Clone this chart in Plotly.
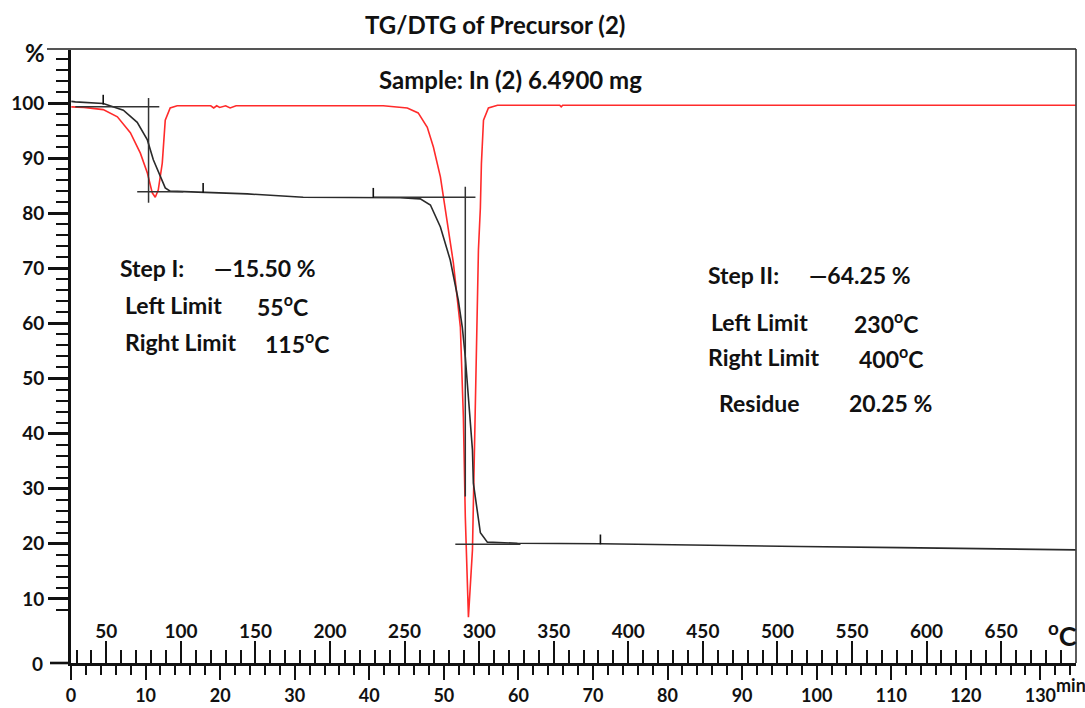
import plotly.graph_objects as go

# ---------------- data ----------------
# TG curve: temperature (°C) vs mass (%)
tg_temp = [26.5, 29.2, 47.9, 61.4, 70.7, 77.5, 81.5, 86.1, 89.5, 92.8, 101.6, 121.7, 144.5,
           182.0, 229.0, 247.0, 260.5, 267.3, 274.0, 280.6, 286.0, 288.7, 290.7, 292.1, 294.1,
           295.5, 296.1, 298.2, 300.8, 305.5, 325.7, 381.3, 448.0, 515.0, 582.0, 700.0]
tg_mass = [100.3, 100.2, 99.9, 98.7, 96.5, 93.3, 89.7, 86.6, 84.6, 84.0, 83.9, 83.7, 83.5,
           82.9, 82.9, 82.8, 82.6, 81.5, 77.5, 71.5, 64.2, 59.3, 53.9, 49.2, 43.0,
           37.0, 31.0, 26.5, 22.0, 20.3, 20.1, 20.0, 19.7, 19.5, 19.3, 18.9]

# DTG curve (drawn on the same % scale)
dtg_temp = [26.5, 35.0, 47.9, 57.4, 66.1, 72.8, 77.5, 80.8, 82.8, 84.8, 87.5, 89.5, 92.8, 97.5,
            120.0, 122.0, 124.0, 126.0, 130.0, 133.0, 137.0, 141.0, 200.0, 235.7, 251.8,
            259.1, 265.2, 269.3, 274.0, 276.0, 282.7, 287.4, 289.4, 290.7, 292.8, 295.5,
            297.5, 299.5, 300.8, 301.5, 302.9, 306.2, 312.3, 354.0, 355.0, 356.0, 500.0, 700.0]
dtg_val = [99.3, 99.2, 98.8, 97.5, 94.6, 90.9, 87.3, 83.7, 82.9, 84.2, 89.1, 96.9, 99.1, 99.5,
           99.5, 99.1, 99.5, 99.2, 99.5, 99.1, 99.5, 99.5, 99.5, 99.5, 99.1,
           98.2, 95.6, 92.0, 86.6, 83.0, 71.0, 59.3, 43.0, 24.9, 6.7, 18.9,
           49.2, 73.3, 81.0, 89.0, 96.9, 99.1, 99.6, 99.6, 99.3, 99.6, 99.6, 99.6]

# Step construction lines (horizontal / vertical tangents)
step1_temp = [29.2, 85.5, None, 78.3, 78.3, None, 70.7, 101.6]
step1_val = [99.3, 99.3, None, 100.9, 81.9, None, 83.9, 83.9]
step2_temp = [229.0, 297.5, None, 290.7, 290.7, None, 284.0, 327.7]
step2_val = [82.9, 82.9, None, 84.8, 28.6, None, 19.9, 19.9]

# small marks on the TG curve
mark_temp = [47.9, 114.9, 229.0, 381.3]
mark_val = [100.6, 84.6, 83.7, 20.8]

# axis ticks
temp_ticks = [50, 100, 150, 200, 250, 300, 350, 400, 450, 500, 550, 600, 650]
time_ticks = [0, 10, 20, 30, 40, 50, 60, 70, 80, 90, 100, 110, 120, 130]
pct_ticks = [10, 20, 30, 40, 50, 60, 70, 80, 90, 100]

T_START = 26.3      # °C at the y axis
T_END = 700.2       # °C at the right border
RATE = 5.0          # °C per minute
Y_MIN, Y_MAX = -1.63, 109.8

# ---------------- layout helpers ----------------
W, H = 1085, 708
ML, MR, MT, MB = 71, 9, 49, 45
PW, PH = W - ML - MR, H - MT - MB


def px(x):
    return (x - ML) / PW


def py(y):
    return (H - MB - y) / PH


FONT = "Lato"
INK = "#111111"

fig = go.Figure()

fig.add_trace(go.Scatter(x=dtg_temp, y=dtg_val, mode="lines",
                         line=dict(color="#ff2b2b", width=1.6), hoverinfo="skip"))
fig.add_trace(go.Scatter(x=tg_temp, y=tg_mass, mode="lines",
                         line=dict(color="#2a2a2a", width=1.6), hoverinfo="skip"))
fig.add_trace(go.Scatter(x=step1_temp, y=step1_val, mode="lines",
                         line=dict(color="#333333", width=1.5), hoverinfo="skip"))
fig.add_trace(go.Scatter(x=step2_temp, y=step2_val, mode="lines",
                         line=dict(color="#333333", width=1.5), hoverinfo="skip"))
fig.add_trace(go.Scatter(x=mark_temp, y=mark_val, mode="markers",
                         marker=dict(symbol="line-ns", size=7,
                                     line=dict(color="#111111", width=1.6)),
                         hoverinfo="skip"))
# invisible trace to activate the time axis
fig.add_trace(go.Scatter(x=[(t - T_START) / RATE for t in tg_temp], y=tg_mass,
                         xaxis="x2", mode="lines", opacity=0,
                         line=dict(width=0), hoverinfo="skip"))

tickfont = dict(family=FONT, size=19, color=INK, weight="bold")
timefont = dict(family=FONT, size=18, color=INK, weight="bold")

fig.update_layout(
    width=W, height=H,
    margin=dict(l=ML, r=MR, t=MT, b=MB, pad=0, autoexpand=False),
    paper_bgcolor="white", plot_bgcolor="white",
    showlegend=False,
    xaxis=dict(range=[T_START, T_END], tickmode="array", tickvals=temp_ticks,
               ticks="inside", ticklen=22, tickwidth=2.4, tickcolor="#111",
               ticklabelposition="inside", tickfont=tickfont, automargin=False,
               minor=dict(tickmode="linear", tick0=0, dtick=10, ticks="inside",
                          ticklen=13, tickwidth=2.4, tickcolor="#111", showgrid=False),
               showline=True, linewidth=2.6, linecolor="#111",
               showgrid=False, zeroline=False, fixedrange=True),
    xaxis2=dict(range=[0, (T_END - T_START) / RATE], overlaying="x", anchor="y",
                side="bottom", tickmode="array", tickvals=time_ticks,
                ticks="outside", ticklen=16, tickwidth=2.4, tickcolor="#111",
                tickfont=timefont, automargin=False,
                minor=dict(tickmode="linear", tick0=0, dtick=2, ticks="outside",
                           ticklen=11, tickwidth=2.4, tickcolor="#111", showgrid=False),
                showline=False, showgrid=False, zeroline=False, fixedrange=True),
    yaxis=dict(range=[Y_MIN, Y_MAX], tickmode="array", tickvals=pct_ticks,
               ticks="outside", ticklen=20, tickwidth=2.6, tickcolor="#111",
               tickfont=tickfont, automargin=False,
               minor=dict(tickmode="linear", tick0=0, dtick=2, ticks="outside",
                          ticklen=12, tickwidth=2.4, tickcolor="#111", showgrid=False),
               showline=True, linewidth=2.6, linecolor="#111",
               showgrid=False, zeroline=False, fixedrange=True),
)

# frame lines
fig.add_shape(type="line", xref="paper", yref="paper", x0=px(47), x1=1, y0=1, y1=1,
              line=dict(color="#555555", width=2))
fig.add_shape(type="line", xref="paper", yref="paper", x0=1, x1=1, y0=0, y1=1,
              line=dict(color="#333333", width=1.6))
fig.add_shape(type="line", xref="paper", yref="paper", x0=px(50), x1=0, y0=0, y1=0,
              line=dict(color="#111111", width=2.6))


def note(x, y, text, size=23, anchor="left"):
    fig.add_annotation(x=px(x), y=py(y), xref="paper", yref="paper", text=text,
                       showarrow=False, xanchor=anchor, yanchor="middle",
                       font=dict(family=FONT, size=size, color=INK, weight="bold"))


note(495, 25, "TG/DTG of Precursor (2)", size=24, anchor="center")
note(510, 79, "Sample: In (2) 6.4900 mg", size=24, anchor="center")
note(23, 52, "%", size=24)
note(45, 663, "0", size=19, anchor="right")
note(1046, 634, "<sup>o</sup>C", size=27)
note(1054, 685, "min", size=18)

# Step I block
note(118, 268, "Step I:")
note(212, 268, "\u201415.50 %")
note(123, 305, "Left Limit")
note(255, 305, "55<sup>o</sup>C")
note(123, 342, "Right Limit")
note(263, 342, "115<sup>o</sup>C")

# Step II block
note(706, 275, "Step II:")
note(807, 275, "\u201464.25 %")
note(709, 322, "Left Limit")
note(852, 322, "230<sup>o</sup>C")
note(706, 357, "Right Limit")
note(857, 357, "400<sup>o</sup>C")
note(717, 403, "Residue")
note(847, 403, "20.25 %")

fig.write_html("out.html")
